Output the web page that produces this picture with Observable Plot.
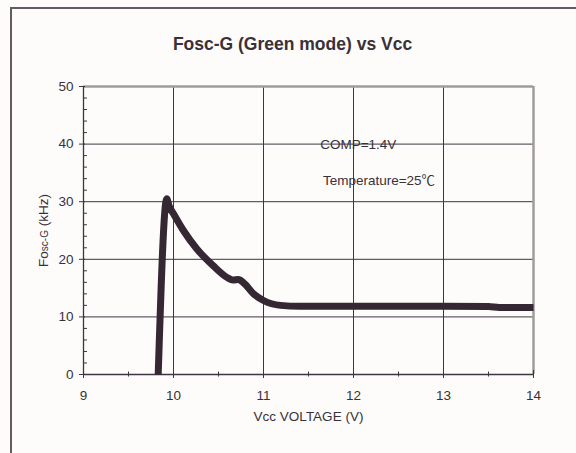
<!DOCTYPE html>
<html>
<head>
<meta charset="utf-8">
<script src="https://cdn.jsdelivr.net/npm/d3@7"></script>
<script src="https://cdn.jsdelivr.net/npm/@observablehq/plot@0.6"></script>
<style>
  html, body { margin: 0; padding: 0; background: #fdfcfb; overflow: hidden; }
  #wrap { position: relative; width: 576px; height: 453px; }
  #border { position: absolute; left: 10px; top: 7px; width: 700px; height: 600px;
            border-left: 2px solid #645a63; border-top: 2px solid #645a63; }
  #chart { position: absolute; left: 0; top: 0; }
</style>
</head>
<body>
<div id="wrap"><div id="border"></div><div id="chart"></div></div>
<script>
const title = "Fosc-G (Green mode) vs Vcc";
const xLabel = "Vcc VOLTAGE (V)";
const yLabel = "Fosc-G (kHz)";
const vcc  = [9.83, 9.925, 9.95, 10.0, 10.11, 10.26, 10.44, 10.6, 10.66, 10.72, 10.78, 10.89, 11.0, 11.19, 11.4, 12, 13, 13.5, 13.62, 14];
const fosc = [0, 30.5, 29.3, 27.9, 25.0, 21.8, 18.9, 16.8, 16.4, 16.5, 15.9, 14.0, 12.85, 12.0, 11.85, 11.85, 11.85, 11.8, 11.65, 11.65];
const xTicks = [9, 10, 11, 12, 13, 14];
const xMinor = [9.5, 10.5, 11.5, 12.5, 13.5];
const yTicks = [0, 10, 20, 30, 40, 50];
const yMinor = [2, 4, 6, 8, 12, 14, 16, 18, 22, 24, 26, 28, 32, 34, 36, 38, 42, 44, 46, 48];
const notes = [
  {v: 11.63, f: 39.9, label: "COMP=1.4V"},
  {v: 11.66, f: 33.6, label: "Temperature=25\u2103"}
];

const data = vcc.map((v, i) => ({v, f: fosc[i]}));
const dark = "#3f3540";
const grey = "#a19b9c";
const ink = "#3a3038";

const chart = Plot.plot({
  width: 576, height: 453,
  marginLeft: 83, marginRight: 43, marginTop: 86, marginBottom: 79,
  x: {domain: [9, 14]},
  y: {domain: [0, 50]},
  style: {background: "transparent", fontFamily: "'Liberation Sans', Arial, 'Noto Sans CJK SC', sans-serif", fontSize: "13.5px", color: ink},
  marks: [
    Plot.gridY(yTicks.filter(d => d > 0 && d < 50), {stroke: dark, strokeOpacity: 1, strokeWidth: 1}),
    Plot.gridX(xTicks.filter(d => d > 9 && d < 14), {stroke: dark, strokeOpacity: 1, strokeWidth: 1}),
    Plot.ruleY([50], {stroke: grey, strokeWidth: 2.5}),
    Plot.ruleX([14], {stroke: grey, strokeWidth: 2.5}),
    Plot.ruleX([9], {stroke: dark, strokeWidth: 1.3}),
    Plot.ruleY([0], {stroke: dark, strokeWidth: 1.3}),
    Plot.axisY(yTicks, {anchor: "left", tickSize: 6, dx: 2, stroke: dark, fill: "none", label: null}),
    Plot.axisY(yMinor, {anchor: "left", tickSize: 4, dx: 4, stroke: dark, fill: "none", label: null}),
    Plot.axisY(yTicks, {anchor: "left", tickSize: 0, tickPadding: 10, fill: ink, label: null}),
    Plot.axisX(xTicks, {anchor: "bottom", tickSize: 8, dy: -4, stroke: dark, fill: "none", label: null}),
    Plot.axisX(xMinor, {anchor: "bottom", tickSize: 5, dy: -2.5, stroke: dark, fill: "none", label: null}),
    Plot.axisX(xTicks, {anchor: "bottom", tickSize: 0, tickPadding: 16, fill: ink, label: null}),
    Plot.line(data, {x: "v", y: "f", stroke: "#352832", strokeWidth: 7, curve: "monotone-x", strokeLinejoin: "round", strokeLinecap: "butt"}),
    Plot.text(notes, {x: "v", y: "f", text: "label", textAnchor: "start", fill: ink, fontSize: 13.5}),
    Plot.text([title], {frameAnchor: "top", dx: -16, dy: -48.5, fontWeight: "bold", fontSize: 17.5, fill: ink}),
    Plot.text([xLabel], {frameAnchor: "bottom", dy: 46, fontSize: 13.5, fill: ink}),
    Plot.text([yLabel], {frameAnchor: "left", dx: -40, rotate: -90, textAnchor: "middle", fontSize: 13.5, fill: ink})
  ]
});

document.getElementById("chart").appendChild(chart);

// Subscript-style "sc-G" in the y label
d3.select(chart).selectAll("text").filter(function() { return this.textContent === yLabel; })
  .each(function() {
    const t = d3.select(this);
    t.text(null);
    t.append("tspan").text("Fo");
    t.append("tspan").attr("font-size", 10).text("sc-G");
    t.append("tspan").text(" (kHz)");
  });
</script>
</body>
</html>
